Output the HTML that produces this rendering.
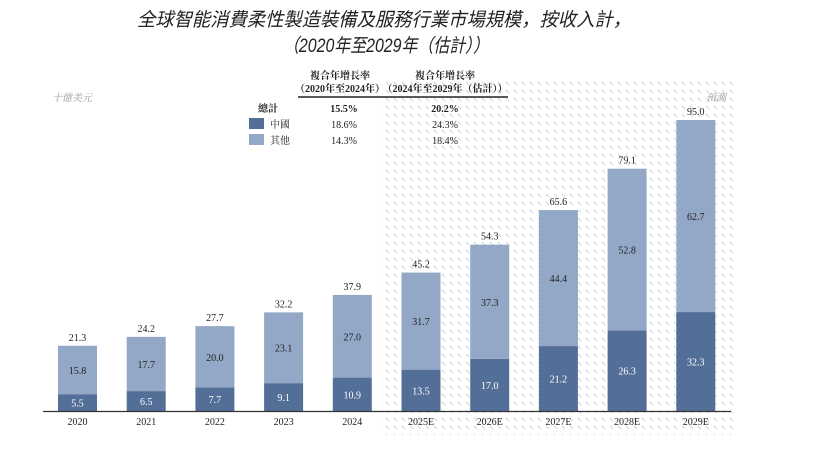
<!DOCTYPE html>
<html><head><meta charset="utf-8"><style>
body{margin:0;background:#fff;}
svg{display:block;font-family:"Liberation Serif","Noto Serif CJK SC",serif;}
</style></head><body>
<svg width="813" height="451" viewBox="0 0 813 451">
<defs>
<pattern id="hatch" width="8" height="8" patternUnits="userSpaceOnUse">
<line x1="2" y1="2" x2="5" y2="5" stroke="#ccd3de" stroke-width="1"/>
</pattern>
</defs>
<rect x="381" y="78" width="354" height="357" fill="url(#hatch)"/>
<text x="384" y="26" text-anchor="middle" font-size="19" font-style="italic" fill="#222" font-family="Liberation Sans, Noto Sans CJK SC, sans-serif" textLength="494" lengthAdjust="spacingAndGlyphs">全球智能消費柔性製造裝備及服務行業市場規模，按收入計，</text>
<text x="386" y="52" text-anchor="middle" font-size="19" font-style="italic" fill="#222" font-family="Liberation Sans, Noto Sans CJK SC, sans-serif" textLength="206" lengthAdjust="spacingAndGlyphs">（2020年至2029年（估計））</text>
<text x="52" y="101" font-size="10" font-style="italic" fill="#999">十億美元</text>
<text x="726" y="101" text-anchor="end" font-size="10" font-style="italic" fill="#999">預測</text>
<g font-size="10" fill="#222">
<text x="340" y="79" text-anchor="middle" font-weight="bold">複合年增長率</text>
<text x="340" y="92" text-anchor="middle" font-weight="bold">（2020年至2024年）</text>
<text x="445" y="79" text-anchor="middle" font-weight="bold">複合年增長率</text>
<text x="445" y="92" text-anchor="middle" font-weight="bold">（2024年至2029年（估計））</text>
<line x1="298" y1="97" x2="508" y2="97" stroke="#222" stroke-width="1.5"/>
<text x="258" y="112" font-weight="bold">總計</text>
<text x="344" y="112" text-anchor="middle" font-weight="bold">15.5%</text>
<text x="445" y="112" text-anchor="middle" font-weight="bold">20.2%</text>
<rect x="249" y="118" width="15" height="11" fill="#536f98"/>
<text x="270" y="128">中國</text>
<text x="344" y="128" text-anchor="middle">18.6%</text>
<text x="445" y="128" text-anchor="middle">24.3%</text>
<rect x="249" y="134" width="15" height="11" fill="#93a8c6"/>
<text x="270" y="144">其他</text>
<text x="344" y="144" text-anchor="middle">14.3%</text>
<text x="445" y="144" text-anchor="middle">18.4%</text>
</g>
<g id="bars"></g>
<line x1="43" y1="411.5" x2="731" y2="411.5" stroke="#333" stroke-width="1.2"/>
</svg>
<script>
const categories=["2020","2021","2022","2023","2024","2025E","2026E","2027E","2028E","2029E"];
const china=[5.5,6.5,7.7,9.1,10.9,13.5,17.0,21.2,26.3,32.3];
const other=[15.8,17.7,20.0,23.1,27.0,31.7,37.3,44.4,52.8,62.7];
const totals=[21.3,24.2,27.7,32.2,37.9,45.2,54.3,65.6,79.1,95.0];
const NS="http://www.w3.org/2000/svg";
const base=411, k=3.063, x0=77.5, step=68.7, bw=39;
const xS=i=>x0+i*step, yS=v=>base-v*k;
const g=document.getElementById('bars');
function mk(tag,attrs,txt){const e=document.createElementNS(NS,tag);for(const a in attrs)e.setAttribute(a,attrs[a]);if(txt!=null)e.textContent=txt;g.appendChild(e);return e;}
categories.forEach((c,i)=>{
 const cx=xS(i);
 const yc=yS(china[i]), yt=yS(china[i]+other[i]);
 const r1=mk('rect',{x:cx-bw/2,y:yc,width:bw,height:base-yc,fill:'#536f98'});
 
 
 const r2=mk('rect',{x:cx-bw/2,y:yt,width:bw,height:yc-yt,fill:'#93a8c6'});
 
 
 const t1=mk('text',{x:cx,y:(yc+base)/2+4,'text-anchor':'middle','font-size':10,fill:'#fff'},china[i].toFixed(1));
 
 
 const t2=mk('text',{x:cx,y:(yt+yc)/2+4,'text-anchor':'middle','font-size':10,fill:'#222'},other[i].toFixed(1));
 
 
 const t3=mk('text',{x:cx,y:yS(totals[i])-5,'text-anchor':'middle','font-size':10,fill:'#222'},totals[i].toFixed(1));
 
 
 const t4=mk('text',{x:cx,y:425,'text-anchor':'middle','font-size':10,fill:'#222'},c);
 
 
});
</script>
</body></html>
